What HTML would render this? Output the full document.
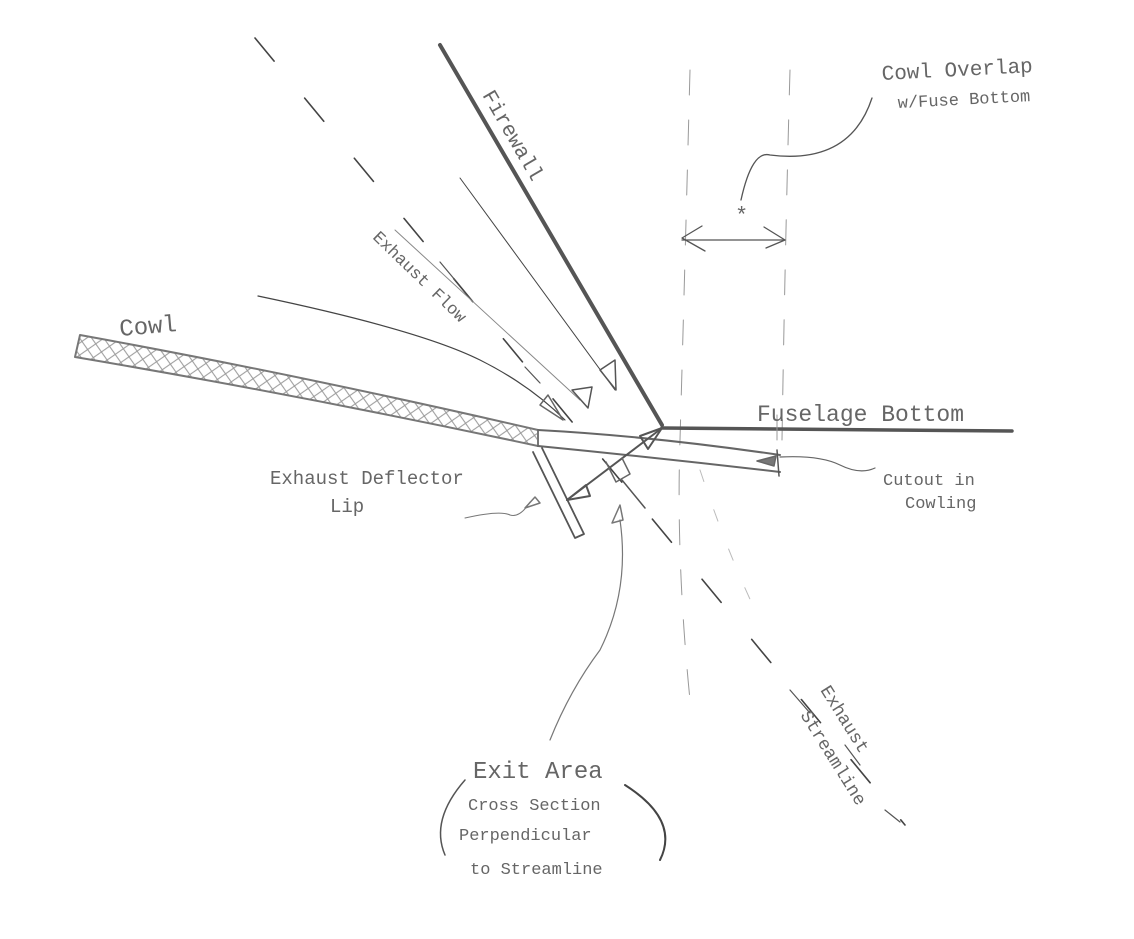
<!DOCTYPE html>
<html><head><meta charset="utf-8"><style>
html,body{margin:0;padding:0;background:#fff;}
svg{display:block}
text{font-family:"Liberation Mono","DejaVu Sans Mono",monospace;fill:#666;}
</style></head><body>
<svg width="1134" height="939" viewBox="0 0 1134 939" xmlns="http://www.w3.org/2000/svg">
<defs>
<pattern id="hx" width="14" height="14" patternUnits="userSpaceOnUse" patternTransform="rotate(10)">
<path d="M0 0 L14 14 M14 0 L0 14" stroke="#999" stroke-width="1"/>
</pattern>
</defs>
<g fill="none" stroke-linecap="round" stroke-linejoin="round">
<!-- exhaust streamline dashed -->
<line x1="255" y1="38" x2="905" y2="825" stroke="#444" stroke-width="1.6" stroke-dasharray="30 48"/>
<!-- vertical dashed overlap lines -->
<path d="M690 70 Q684 300 680 440 Q676 560 690 700" stroke="#999" stroke-width="1" stroke-dasharray="25 25"/>
<path d="M790 70 Q785 250 782 440" stroke="#999" stroke-width="1" stroke-dasharray="25 25"/>
<path d="M700 470 Q730 560 760 620" stroke="#bbb" stroke-width="1" stroke-dasharray="12 30"/>
<!-- firewall -->
<line x1="440" y1="45" x2="662" y2="425" stroke="#555" stroke-width="4"/>
<!-- fuselage bottom -->
<line x1="662" y1="428" x2="1012" y2="431" stroke="#555" stroke-width="3.5"/>
<!-- cowl band -->
<path d="M80 335 Q300 375 538 430 L538 446 Q300 395 75 357 Z" fill="url(#hx)" stroke="#777" stroke-width="2"/>
<!-- cutout continued lines -->
<path d="M538 430 Q650 436 780 455" stroke="#666" stroke-width="2"/>
<path d="M538 446 Q660 458 780 472" stroke="#666" stroke-width="2"/>
<line x1="777" y1="450" x2="779" y2="476" stroke="#555" stroke-width="1.5"/>
<line x1="777" y1="415" x2="777" y2="440" stroke="#999" stroke-width="1"/>
<path d="M757 461 L776 456 L774 466 Z" fill="#777" stroke="#666" stroke-width="1.5"/>
<path d="M780 457 Q820 455 840 465 Q860 475 875 468" stroke="#666" stroke-width="1.2"/>
<!-- deflector lip -->
<path d="M533 452 L575 538 L584 534 L542 448" stroke="#555" stroke-width="1.8"/>
<!-- double arrow exit -->
<line x1="567" y1="500" x2="662" y2="428" stroke="#555" stroke-width="2"/>
<path d="M662 428 L648 449 L640 436 Z" stroke="#555" stroke-width="2"/>
<path d="M567 500 L586 485 L590 496 Z" stroke="#555" stroke-width="2"/>
<!-- square mark -->
<path d="M606 462 L616 482 L630 474 L622 458" stroke="#666" stroke-width="1.5"/>
<line x1="622" y1="480" x2="645" y2="508" stroke="#555" stroke-width="1.5"/>
<!-- flow lines -->
<line x1="460" y1="178" x2="615" y2="390" stroke="#444" stroke-width="1"/>
<path d="M600 370 L615 360 L616 390 Z" stroke="#555" stroke-width="1.5"/>
<line x1="395" y1="230" x2="580" y2="400" stroke="#888" stroke-width="1"/>
<line x1="440" y1="262" x2="455" y2="280" stroke="#555" stroke-width="1.2"/>
<line x1="525" y1="367" x2="540" y2="383" stroke="#555" stroke-width="1.2"/>
<path d="M572 390 L592 387 L588 408 Z" stroke="#555" stroke-width="1.5"/>
<path d="M258 296 Q420 330 480 360 Q530 385 565 420" stroke="#444" stroke-width="1.2"/>
<path d="M540 405 L548 395 L563 420 Z" stroke="#666" stroke-width="1.5"/>
<!-- leaders -->
<path d="M465 518 Q500 510 510 515 Q520 518 530 502" stroke="#777" stroke-width="1"/>
<path d="M525 508 L535 497 L540 503 Z" stroke="#777" stroke-width="1.5"/>
<path d="M550 740 Q570 690 600 650 Q630 590 620 520" stroke="#777" stroke-width="1.2"/>
<path d="M612 523 L620 505 L623 520 Z" stroke="#777" stroke-width="1.5"/>
<path d="M741 200 Q752 150 770 155 Q850 165 872 98" stroke="#555" stroke-width="1.3"/>
<!-- overlap double arrow -->
<line x1="682" y1="240" x2="785" y2="240" stroke="#555" stroke-width="1.3"/>
<path d="M702 226 L682 238 L705 251" stroke="#555" stroke-width="1.3"/>
<path d="M764 227 L785 240 L766 248" stroke="#555" stroke-width="1.3"/>
<!-- exit area parens -->
<path d="M465 780 Q430 820 445 855" stroke="#555" stroke-width="1.5"/>
<path d="M625 785 Q680 820 660 860" stroke="#444" stroke-width="2"/>
<!-- streamline ticks near label -->
<line x1="790" y1="690" x2="810" y2="713" stroke="#555" stroke-width="1.2"/>
<line x1="845" y1="745" x2="860" y2="765" stroke="#555" stroke-width="1.2"/>
<line x1="885" y1="810" x2="900" y2="822" stroke="#555" stroke-width="1.2"/>
</g>
<text x="735" y="222" font-size="22" fill="#444">*</text>
<text x="120" y="336" font-size="24" transform="rotate(-5 120 336)">Cowl</text>
<text x="270" y="484" font-size="19">Exhaust Deflector</text>
<text x="330" y="512" font-size="19">Lip</text>
<text x="757" y="421" font-size="23">Fuselage Bottom</text>
<text x="883" y="485" font-size="17">Cutout in</text>
<text x="905" y="508" font-size="17">Cowling</text>
<text x="882" y="80" font-size="21" transform="rotate(-3 882 80)">Cowl Overlap</text>
<text x="898" y="108" font-size="17" transform="rotate(-3 898 108)">w/Fuse Bottom</text>
<text x="482" y="95" font-size="21" transform="rotate(60 482 95)">Firewall</text>
<text x="372" y="238" font-size="17" transform="rotate(44 372 238)">Exhaust Flow</text>
<text x="820" y="690" font-size="18" transform="rotate(58 820 690)">Exhaust</text>
<text x="800" y="715" font-size="18" transform="rotate(58 800 715)">Streamline</text>
<text x="473" y="778" font-size="24">Exit Area</text>
<text x="468" y="810" font-size="17">Cross Section</text>
<text x="459" y="840" font-size="17">Perpendicular</text>
<text x="470" y="874" font-size="17">to Streamline</text>
</svg>
</body></html>
